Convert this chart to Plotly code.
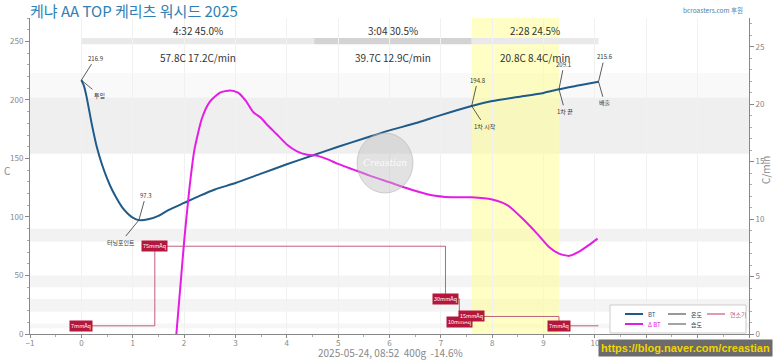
import plotly.graph_objects as go

# ---------------- data ----------------
title_text = "케냐 AA TOP 케리츠 워시드 2025"
sponsor_text = "bcroasters.com 후원"
footer_text = "2025-05-24, 08:52  400g  -14.6%"
watermark_url = "https://blog.naver.com/creastian"

bt_time = [0, 0.05, 0.1, 0.2, 0.3, 0.4, 0.5, 0.6, 0.7, 0.8, 0.9, 1.0, 1.12, 1.3, 1.5, 1.7,
           2.0, 2.3, 2.6, 3.0, 3.5, 4.0, 4.5, 5.0, 5.5, 6.0, 6.5, 7.0, 7.6, 8.0, 8.5,
           9.0, 9.3, 9.7, 10.07]
bt_temp = [216.9, 212, 203, 180, 160, 145, 133, 123, 115, 108, 103, 99.5, 97.3, 98, 101, 106,
           112, 118, 123.5, 129, 137, 145, 152.5, 160, 167, 174, 180, 187, 194.8, 199, 202.5,
           206, 209.1, 212.5, 215.6]

ror_time = [1.85, 2.0, 2.1, 2.2, 2.35, 2.5, 2.7, 2.9, 3.05, 3.2, 3.35, 3.5, 3.6, 3.8, 4.0,
            4.2, 4.4, 4.6, 4.8, 5.0, 5.3, 5.6, 6.0, 6.4, 6.8, 7.2, 7.6, 8.0, 8.3, 8.6,
            8.9, 9.1, 9.3, 9.5, 9.7, 9.9, 10.05]
ror_val = [0, 8, 12.5, 16, 18.8, 20.2, 21.0, 21.2, 21.0, 20.3, 19.3, 18.8, 18.3, 17.4, 16.5,
           15.9, 15.6, 15.5, 15.2, 14.8, 14.3, 13.8, 13.2, 12.6, 12.1, 11.9, 11.9, 11.7, 11.2, 10.0,
           8.6, 7.6, 7.0, 6.8, 7.2, 7.8, 8.3]

gas_time = [0, 1.43, 7.09, 7.36, 7.6, 9.3, 10.07]
gas_val = [7, 75, 30, 10, 15, 7, 7]
gas_labels = ["7mmAq", "75mmAq", "30mmAq", "10mmAq", "15mmAq", "7mmAq"]

phase_bounds = [0, 4.533, 7.6, 10.07]
phase_time_text = ["4:32 45.0%", "3:04 30.5%", "2:28 24.5%"]
phase_stat_text = ["57.8C 17.2C/min", "39.7C 12.9C/min", "20.8C 8.4C/min"]
phase_colors = ["#e9e9e9", "#d3d3d3", "#e9e9e9"]

fc_start, fc_end = 7.6, 9.3

event_time = [0, 1.12, 7.6, 9.3, 10.07]
event_temp = [216.9, 97.3, 194.8, 209.1, 215.6]
event_name = ["투입", "터닝포인트", "1차 시작", "1차 끝", "배출"]
event_val_offset = [(14, -22), (7, -25), (6, -26), (5, -25), (6, -25)]
event_name_offset = [(18, 15), (-18, 22), (13, 20), (6, 22), (6, 21)]

band_ranges = [(202, 223, "#f9f9f9"), (154, 202, "#efefef"), (79, 90, "#f2f2f2"),
               (40, 50, "#f4f4f4"), (19, 30, "#f4f4f4"), (5, 9, "#f6f6f6")]

legend_names = ["BT", "온도", "연소기", "Δ BT", "습도"]
legend_colors = ["#1f5b8a", "#555555", "#c0607a", "#e020e0", "#666666"]
legend_text_colors = ["#1f5b8a", "#333333", "#c0607a", "#e020e0", "#333333"]

FONT = "Noto Sans CJK KR"
BT_COLOR = "#1f5b8a"
ROR_COLOR = "#e51ce5"
GAS_COLOR = "#c0607a"

PL, PR, PT, PB = 30, 749, 18, 334
def px(x):
    return (x - PL) / (PR - PL)
def py(y):
    return (PB - y) / (PB - PT)

fig = go.Figure()

fig.add_trace(go.Scatter(x=bt_time, y=bt_temp, mode="lines", name="BT",
                         line=dict(color=BT_COLOR, width=2, shape="spline", smoothing=0.6)))
fig.add_trace(go.Scatter(x=ror_time, y=ror_val, mode="lines", name="Δ BT", yaxis="y2",
                         line=dict(color=ROR_COLOR, width=2, shape="spline", smoothing=0.6)))
fig.add_trace(go.Scatter(x=gas_time, y=gas_val, mode="lines", name="연소기",
                         line=dict(color=GAS_COLOR, width=1, shape="hv")))

shapes = []
annotations = []

for y0, y1, c in band_ranges:
    shapes.append(dict(type="rect", xref="paper", yref="y", x0=0, x1=1, y0=y0, y1=y1,
                       fillcolor=c, line=dict(width=0), layer="below"))

shapes.append(dict(type="rect", xref="x", yref="paper", x0=fc_start, x1=fc_end, y0=0, y1=1,
                   fillcolor="rgba(255,255,150,0.55)", line=dict(width=0), layer="below"))

for i in range(3):
    shapes.append(dict(type="rect", xref="x", yref="y", x0=phase_bounds[i], x1=phase_bounds[i + 1],
                       y0=247.5, y1=253, fillcolor=phase_colors[i], line=dict(width=0), layer="below"))
    xm = (phase_bounds[i] + phase_bounds[i + 1]) / 2
    annotations.append(dict(x=xm, y=259, xref="x", yref="y", text=phase_time_text[i], showarrow=False,
                            yanchor="middle", font=dict(family=FONT, size=10, color="#333")))
    annotations.append(dict(x=xm, y=236, xref="x", yref="y", text=phase_stat_text[i], showarrow=False,
                            yanchor="middle", font=dict(family=FONT, size=10, color="#333")))

for t, v, name, vo, no in zip(event_time, event_temp, event_name, event_val_offset, event_name_offset):
    annotations.append(dict(x=t, y=v, xref="x", yref="y", text=f"{v}", showarrow=True, arrowhead=0,
                            arrowwidth=0.8, arrowcolor="#333", ax=vo[0], ay=vo[1],
                            font=dict(family=FONT, size=6, color="#333")))
    annotations.append(dict(x=t, y=v, xref="x", yref="y", text=name, showarrow=True, arrowhead=0,
                            arrowwidth=0.8, arrowcolor="#333", ax=no[0], ay=no[1],
                            font=dict(family=FONT, size=6, color="#333")))

for t, v, lab in zip(gas_time[:-1], gas_val[:-1], gas_labels):
    annotations.append(dict(x=t, y=v, xref="x", yref="y", text=lab, showarrow=False,
                            xanchor="center", yanchor="middle",
                            font=dict(family=FONT, size=5.5, color="white"),
                            bgcolor="#b5173c", borderpad=1))

annotations.append(dict(x=px(28), y=py(10), xref="paper", yref="paper", xanchor="left", yanchor="middle",
                        text=title_text, showarrow=False,
                        font=dict(family=FONT, size=15, color="#2f7fb5")))
annotations.append(dict(x=px(745), y=py(10), xref="paper", yref="paper", xanchor="right", yanchor="middle",
                        text=sponsor_text, showarrow=False,
                        font=dict(family=FONT, size=6.5, color="#4a7fa8")))

annotations.append(dict(x=px(390), y=py(352), xref="paper", yref="paper", text=footer_text,
                        xanchor="center", yanchor="middle",
                        showarrow=False, font=dict(family=FONT, size=10, color="#888")))
annotations.append(dict(x=px(7), y=py(170), xref="paper", yref="paper", text="C",
                        xanchor="center", yanchor="middle",
                        showarrow=False, font=dict(family=FONT, size=10, color="#888")))
annotations.append(dict(x=px(765), y=py(170), xref="paper", yref="paper", text="C/min", textangle=-90,
                        xanchor="center", yanchor="middle",
                        showarrow=False, font=dict(family=FONT, size=10, color="#888")))

annotations.append(dict(x=px(773), y=py(348), xref="paper", yref="paper", xanchor="right", yanchor="middle",
                        text=f"<b>{watermark_url}</b>", showarrow=False, bgcolor="#6b6b6b",
                        font=dict(family="Liberation Sans", size=11, color="#f2d400"), borderpad=2))

shapes.append(dict(type="circle", xref="paper", yref="paper", x0=px(357), x1=px(413),
                   y0=py(193), y1=py(133), fillcolor="rgba(190,190,190,0.45)",
                   line=dict(color="rgba(170,170,170,0.5)", width=1)))
annotations.append(dict(x=px(385), y=py(163), xref="paper", yref="paper", text="<i>Creastian</i>",
                        xanchor="center", yanchor="middle",
                        showarrow=False, font=dict(family="DejaVu Serif", size=9, color="rgba(255,255,255,0.9)")))

shapes.append(dict(type="rect", xref="paper", yref="paper", x0=px(610), x1=px(746), y0=py(333), y1=py(305),
                   fillcolor="white", line=dict(color="#cccccc", width=1)))
legend_cols = [625, 668, 707]
for i, name in enumerate(legend_names):
    row, col = (0, i) if i < 3 else (1, i - 3)
    xs = legend_cols[col]
    yy = 314 + row * 10
    shapes.append(dict(type="line", xref="paper", yref="paper", x0=px(xs), x1=px(xs + 18),
                       y0=py(yy), y1=py(yy),
                       line=dict(color=legend_colors[i], width=2 if col == 0 else 1.2)))
    annotations.append(dict(x=px(xs + 21), y=py(yy), xref="paper", yref="paper", xanchor="left",
                            yanchor="middle", text=name, showarrow=False,
                            font=dict(family=FONT, size=6, color=legend_text_colors[i])))

fig.update_layout(
    width=773, height=361,
    margin=dict(l=PL, r=773 - PR, t=PT, b=361 - PB, autoexpand=False),
    paper_bgcolor="white", plot_bgcolor="white",
    font=dict(family=FONT, size=8, color="#888"),
    showlegend=False, hovermode=False,
    shapes=shapes, annotations=annotations,
    xaxis=dict(range=[-1, 13], dtick=1, showgrid=True, gridcolor="#f1f1f1", zeroline=False,
               showline=True, linecolor="#888", ticks="outside", ticklen=3, tickcolor="#888",
               minor=dict(dtick=0.5, ticks="outside", ticklen=2, tickcolor="#aaa"),
               tickfont=dict(size=8, color="#888"), automargin=False, ticklabelstandoff=-2),
    yaxis=dict(range=[0, 270], dtick=50, showgrid=False, zeroline=False, showline=True,
               linecolor="#888", ticks="outside", ticklen=4, tickcolor="#888",
               minor=dict(dtick=10, ticks="outside", ticklen=2, tickcolor="#aaa"),
               tickfont=dict(size=8, color="#888"), automargin=False),
    yaxis2=dict(range=[0, 27.5], dtick=5, overlaying="y", side="right", showgrid=False,
                zeroline=False, showline=True, linecolor="#888", ticks="outside", ticklen=4,
                tickcolor="#888", minor=dict(dtick=1, ticks="outside", ticklen=2, tickcolor="#aaa"),
                tickfont=dict(size=8, color="#888"), automargin=False),
)

fig.write_html("out.html", config=dict(displayModeBar=False, staticPlot=True),
               post_script="document.body.style.margin='0';document.body.style.overflow='hidden';")
